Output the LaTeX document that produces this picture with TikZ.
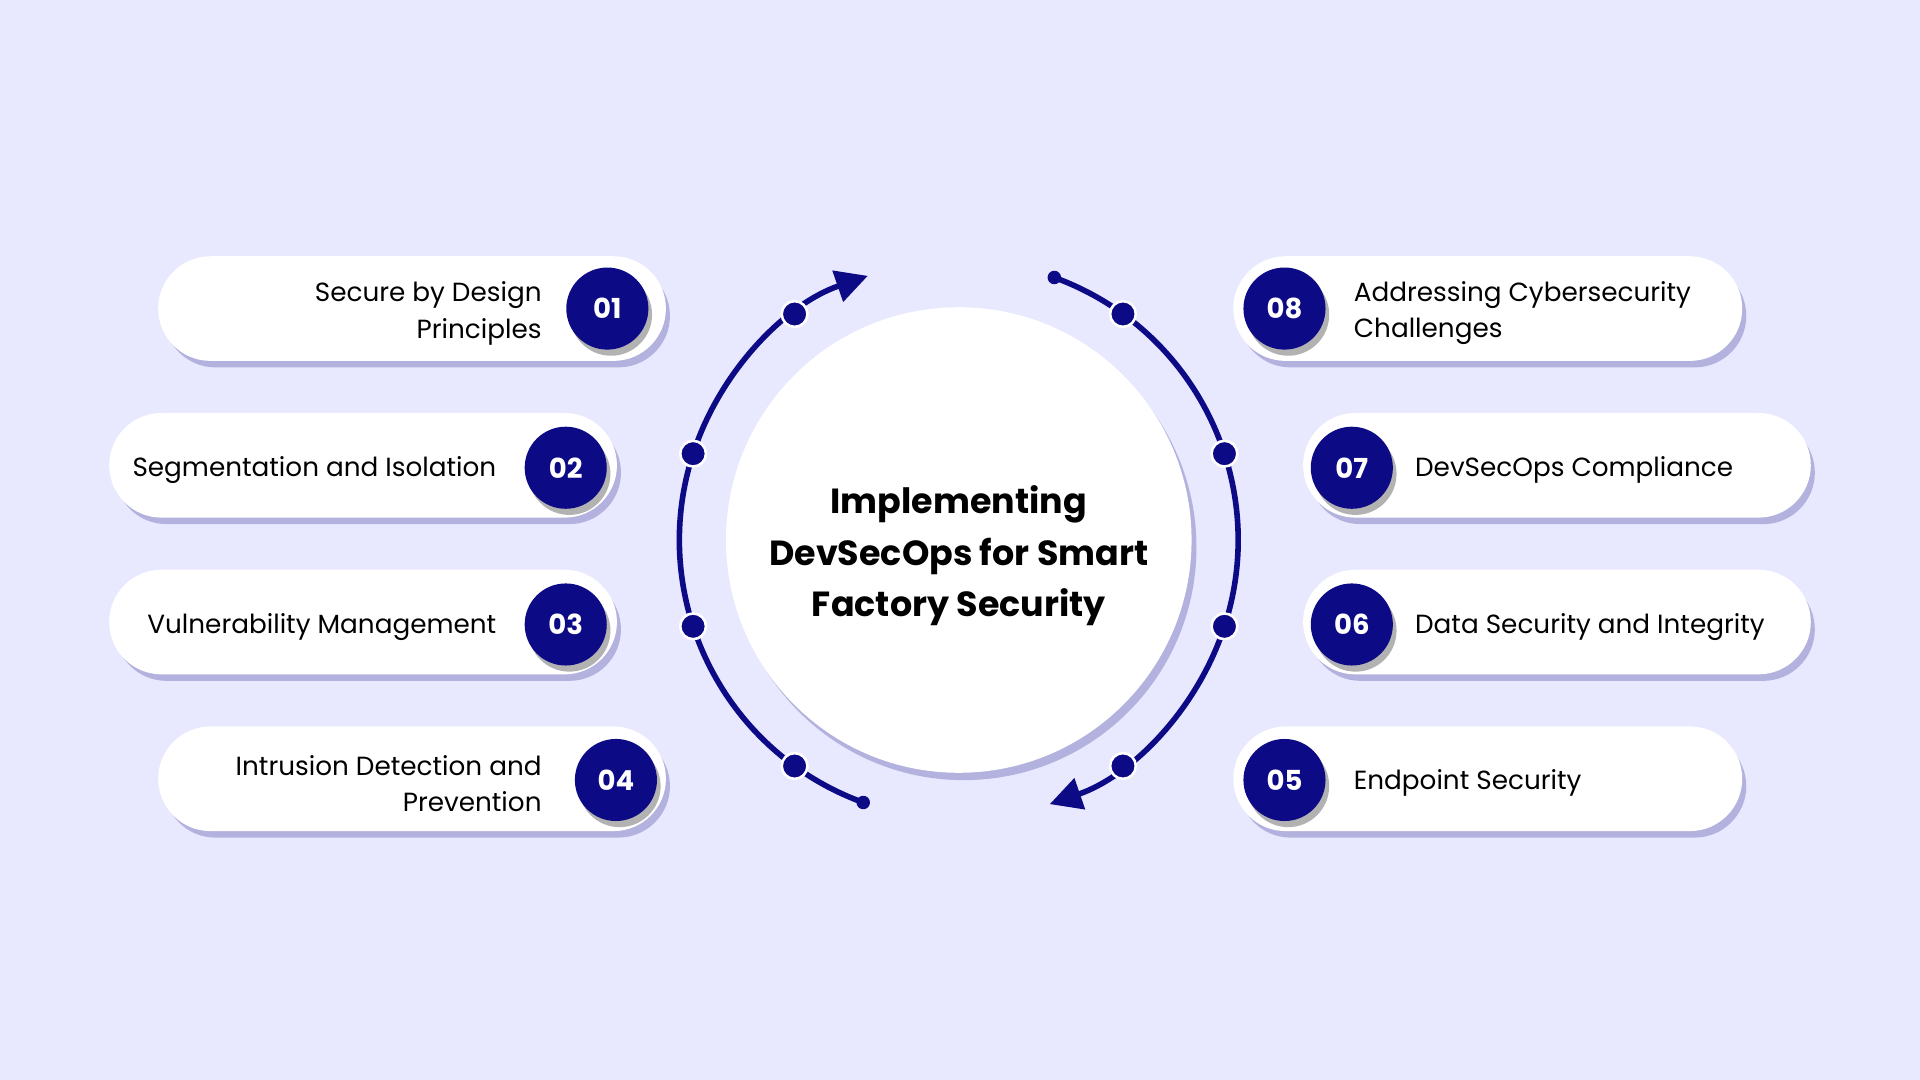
\documentclass[tikz,border=0pt]{standalone}
\usepackage{fontspec}
\setmainfont{Poppins}
\usetikzlibrary{shadows,arrows.meta}
\definecolor{bg}{HTML}{E8E8FE}
\definecolor{navy}{HTML}{0C0A85}
\definecolor{shad}{HTML}{7472B8}
\tikzset{
 pill/.style={draw=white,fill=white,rounded corners=4.2mm,minimum height=8.4mm,
   drop shadow={shadow xshift=0.4mm,shadow yshift=-0.6mm,fill=shad,opacity=0.45}},
 num/.style={circle,fill=navy,minimum size=6.7mm,inner sep=0pt,text=white,
   font=\fontsize{6.4pt}{7pt}\selectfont\bfseries,
   drop shadow={shadow xshift=0.3mm,shadow yshift=-0.5mm,fill=black,opacity=0.3}},
 lbl/.style={font=\fontsize{6.1pt}{8.4pt}\selectfont,text=black,inner sep=0pt},
 dotn/.style={circle,fill=navy,draw=white,line width=0.6pt,minimum size=2.1mm,inner sep=0pt},
 endd/.style={circle,fill=navy,minimum size=1.1mm,inner sep=0pt},
 arc/.style={navy,line width=1.3pt}
}
\begin{document}
\begin{tikzpicture}[x=0.01cm,y=-0.01cm]
\fill[bg] (0,0) rectangle (1568,882);
\useasboundingbox (0,0) rectangle (1568,882);
% center circle
\node[circle,fill=white,minimum size=3.8cm,inner sep=0pt,
  drop shadow={shadow xshift=0.4mm,shadow yshift=-0.6mm,fill=shad,opacity=0.45}] (c) at (783,441) {};
\node[align=center,font=\fontsize{8.1pt}{12pt}\selectfont\bfseries] (title) at (783,454)
  {Implementing\\DevSecOps for Smart\\Factory Security};
% arcs
\draw[arc,-{Triangle[length=2.6mm,width=2.6mm]}] ([shift={(250:2.28cm)}]c.center) arc[start angle=250,end angle=109,radius=2.28cm];
\draw[arc,-{Triangle[length=2.6mm,width=2.6mm]}] ([shift={(70:2.28cm)}]c.center) arc[start angle=70,end angle=-71,radius=2.28cm];
\node[endd] (e1) at ([shift={(250:2.28cm)}]c.center) {};
\node[endd] (e2) at ([shift={(70:2.28cm)}]c.center) {};
\foreach \a in {126,162,198,234,54,18,-18,-54}{\node[dotn] at ([shift={(\a:2.28cm)}]c.center) {};}
% left pills
\node[pill,minimum width=4.13cm] (p1) at (336.5,252) {};
\node[num] (n1) at (496,252) {01};
\node[lbl,anchor=east,align=right] (t1) at (443,256) {Secure by Design\\Principles};
\node[pill,minimum width=4.13cm] (p2) at (296.5,380) {};
\node[num] (n2) at (462,382) {02};
\node[lbl,anchor=east] (t2) at (406,384) {Segmentation and Isolation};
\node[pill,minimum width=4.13cm] (p3) at (296.5,508) {};
\node[num] (n3) at (462,510) {03};
\node[lbl,anchor=east] (t3) at (406,512) {Vulnerability Management};
\node[pill,minimum width=4.13cm] (p4) at (336.5,636) {};
\node[num] (n4) at (503,637) {04};
\node[lbl,anchor=east,align=right] (t4) at (443,640) {Intrusion Detection and\\Prevention};
% right pills
\node[pill,minimum width=4.14cm] (p8) at (1215,252) {};
\node[num] (n8) at (1049,252) {08};
\node[lbl,anchor=west,align=left] (t8) at (1105,256) {Addressing Cybersecurity\\Challenges};
\node[pill,minimum width=4.13cm] (p7) at (1271.5,380) {};
\node[num] (n7) at (1104,382) {07};
\node[lbl,anchor=west] (t7) at (1155,384) {DevSecOps Compliance};
\node[pill,minimum width=4.13cm] (p6) at (1271.5,508) {};
\node[num] (n6) at (1104,510) {06};
\node[lbl,anchor=west] (t6) at (1155,512) {Data Security and Integrity};
\node[pill,minimum width=4.14cm] (p5) at (1215,636) {};
\node[num] (n5) at (1049,637) {05};
\node[lbl,anchor=west] (t5) at (1105,639) {Endpoint Security};
\end{tikzpicture}
\end{document}
